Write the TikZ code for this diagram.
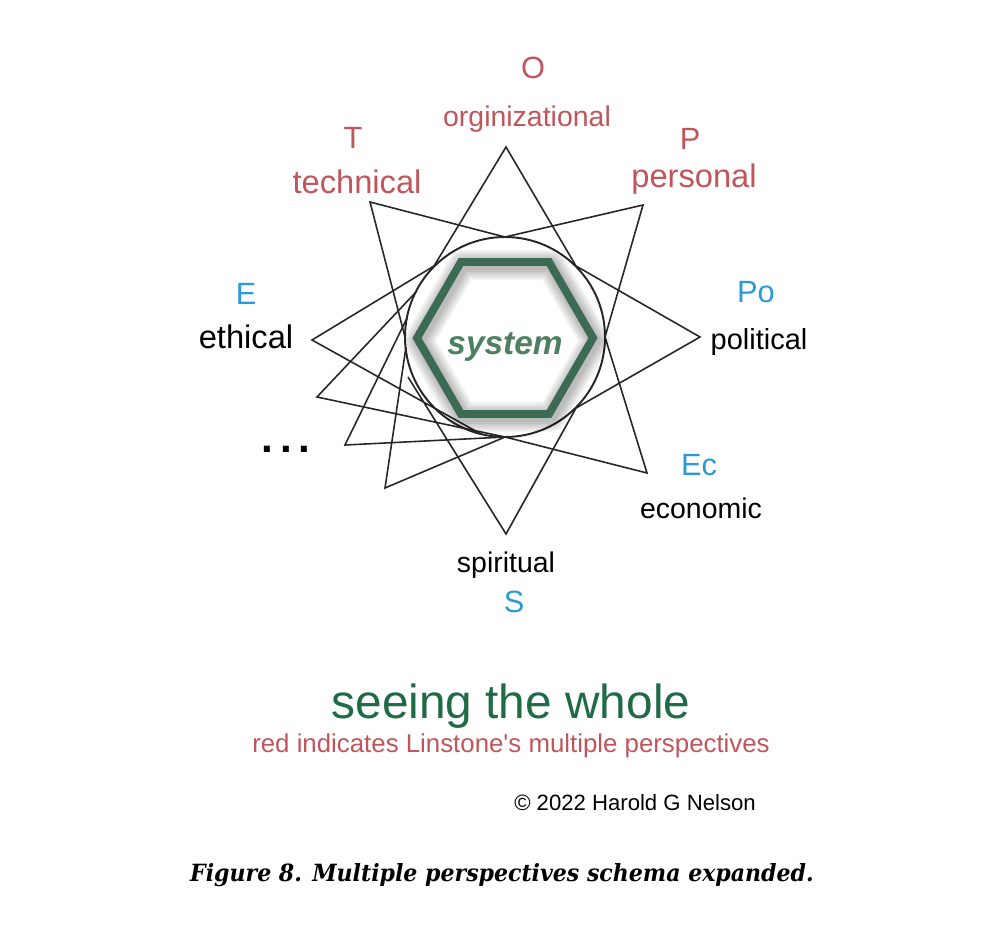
\documentclass[tikz,border=0pt]{standalone}
\usepackage{fontspec}
\setmainfont{Liberation Sans}
\newfontfamily\captionfont{DejaVu Serif}[FakeStretch=0.93]

\tikzset{
  starline/.style={draw=black!85, line width=0.9pt, line join=miter},
  tagtext/.style={anchor=base, inner sep=0pt},
}

\begin{document}
\begin{tikzpicture}[x=0.02cm, y=-0.02cm]

\definecolor{customRed}{HTML}{C0565B}
\definecolor{customBlue}{HTML}{2A9AD8}
\definecolor{customGreen}{HTML}{1F6B45}
\definecolor{customHex}{HTML}{3D6A53}
\definecolor{customSystem}{HTML}{4C8060}

\useasboundingbox (0,0) rectangle (1000,950);
\fill[white] (0,0) rectangle (1000,950);

% Centre of the ring
\coordinate (ctr) at (505,337);

% Points on the ring
\coordinate (in0) at (605,337);
\coordinate (in45) at (576,266);
\coordinate (in90) at (505,237);
\coordinate (in135) at (434,266);
\coordinate (in153) at (416,292);
\coordinate (in169) at (407,318);
\coordinate (in180) at (405,337);
\coordinate (in186) at (406,347);
\coordinate (in202) at (408,377);
\coordinate (in256) at (481,434);
\coordinate (in270) at (505,437);
\coordinate (in315) at (576,408);

% Tips of the star
\coordinate (tipOrg) at (506,147);
\coordinate (tipTec) at (370,202);
\coordinate (tipPer) at (643,205);
\coordinate (tipPol) at (700,337);
\coordinate (tipEth) at (312,340);
\coordinate (tipEco) at (647,473);
\coordinate (tipSpi) at (506,534);
\coordinate (tipMoreA) at (317,397);
\coordinate (tipMoreB) at (345,445);
\coordinate (tipMoreC) at (385,488);

% First star (O, Po, S, E)
\draw[starline] (in256) -- (tipEth) -- (in135) -- (tipOrg) -- (in45) -- (tipPol) -- (in315) -- (tipSpi) -- (in202);

% Second star (P, T, ..., Ec)
\draw[starline] (in180) -- (tipTec) -- (in90) -- (tipPer) -- (in0) -- (tipEco) -- (in270);
\draw[starline] (in153) -- (tipMoreA) -- (in270);
\draw[starline] (in169) -- (tipMoreB) -- (in270);
\draw[starline] (in186) -- (tipMoreC) -- (in270);

% Ring
\draw[black!85, line width=1.1pt] (ctr) circle [radius=100];

% Soft shadow of the hexagon
\foreach \i in {1,...,8}
  \draw[black, opacity=0.035, line width=4.5pt+1.6pt*\i, line join=round, shift={(2,3)}]
    (593,338) -- (549,262) -- (461,262) -- (417,338) -- (461,414) -- (549,414) -- cycle;

% Hexagon
\draw[customHex, line width=4.5pt, line join=miter]
  (593,338) -- (549,262) -- (461,262) -- (417,338) -- (461,414) -- (549,414) -- cycle;
\node[tagtext, text=customSystem, font=\fontsize{19}{22}\selectfont\bfseries\itshape] (sys) at (505,354) {system};

% Perspectives (red)
\node[tagtext, text=customRed, font=\fontsize{17.5}{20}\selectfont] (lblO) at (533,78) {O};
\node[tagtext, text=customRed, font=\fontsize{16.2}{19}\selectfont] (lblOrg) at (527,126) {orginizational};
\node[tagtext, text=customRed, font=\fontsize{17.5}{20}\selectfont] (lblT) at (353,148) {T};
\node[tagtext, text=customRed, font=\fontsize{18.6}{21}\selectfont] (lblTec) at (357,193) {technical};
\node[tagtext, text=customRed, font=\fontsize{17.5}{20}\selectfont] (lblP) at (690,149) {P};
\node[tagtext, text=customRed, font=\fontsize{18.6}{21}\selectfont] (lblPer) at (694,187) {personal};

% Other perspectives (blue letter, black word)
\node[tagtext, text=customBlue, font=\fontsize{17.5}{20}\selectfont] (lblE) at (246,304) {E};
\node[tagtext, font=\fontsize{18.6}{21}\selectfont] (lblEth) at (246,348) {ethical};
\node[tagtext, text=customBlue, font=\fontsize{17.5}{20}\selectfont] (lblPo) at (756,302) {Po};
\node[tagtext, font=\fontsize{16.5}{19}\selectfont] (lblPol) at (759,349) {political};
\node[tagtext, text=customBlue, font=\fontsize{17.5}{20}\selectfont] (lblEc) at (699,475) {Ec};
\node[tagtext, font=\fontsize{16.2}{19}\selectfont] (lblEco) at (701,518) {economic};
\node[tagtext, font=\fontsize{16.2}{19}\selectfont] (lblSpi) at (506,572) {spiritual};
\node[tagtext, text=customBlue, font=\fontsize{17.5}{20}\selectfont] (lblS) at (514,612) {S};
\node[tagtext, font=\fontsize{24}{28}\selectfont\bfseries] (lblMore) at (286,452) {.\kern4pt.\kern4pt.};

% Title and notes
\node[tagtext, text=customGreen, font=\fontsize{27.2}{32}\selectfont] (title) at (511,718) {seeing the whole};
\node[tagtext, text=customRed, font=\fontsize{14.7}{17}\selectfont] (note) at (511,752) {red indicates Linstone\textquotesingle s multiple perspectives};
\node[tagtext, font=\fontsize{12.6}{15}\selectfont] (copy) at (635,810) {© 2022 Harold G Nelson};

% Caption
\node[tagtext, font=\captionfont\fontsize{13.5}{16}\selectfont\bfseries\itshape] (caption) at (502,881) {Figure 8. Multiple perspectives schema expanded.};

\end{tikzpicture}
\end{document}
